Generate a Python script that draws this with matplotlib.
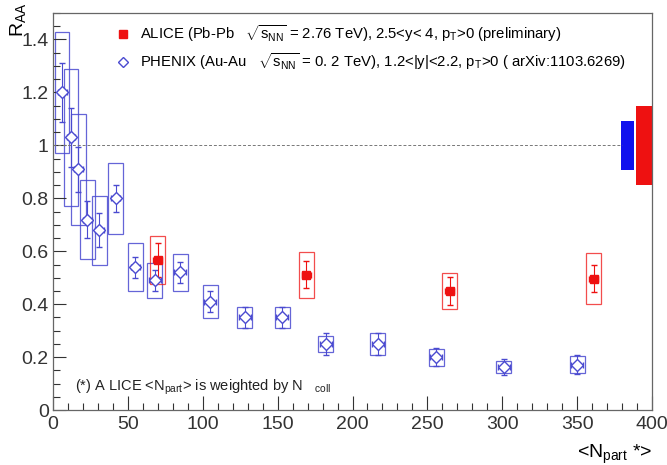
import matplotlib
matplotlib.use('Agg')
import matplotlib.pyplot as plt
from matplotlib.patches import Rectangle
from matplotlib.lines import Line2D
from matplotlib.ticker import MultipleLocator

plt.rcParams['font.family'] = ['Liberation Sans', 'DejaVu Sans']
plt.rcParams['mathtext.fontset'] = 'custom'
plt.rcParams['mathtext.rm'] = 'Liberation Sans'
plt.rcParams['mathtext.it'] = 'Liberation Sans'

# PHENIX Au-Au, 1.2<|y|<2.2
phenix_npart = [6, 12, 17, 23, 31, 42, 55, 68, 85, 105, 128, 153, 182, 217, 256, 301, 350]
phenix_raa = [1.20, 1.03, 0.91, 0.72, 0.68, 0.80, 0.54, 0.49, 0.52, 0.41, 0.35, 0.35, 0.25, 0.25, 0.20, 0.163, 0.172]
phenix_stat = [0.11, 0.11, 0.085, 0.07, 0.065, 0.05, 0.04, 0.04, 0.04, 0.04, 0.04, 0.04, 0.04, 0.04, 0.035, 0.03, 0.035]
phenix_sys = [0.23, 0.26, 0.21, 0.15, 0.13, 0.135, 0.09, 0.067, 0.07, 0.063, 0.04, 0.04, 0.03, 0.043, 0.032, 0.022, 0.033]
phenix_xerr = [3, 3, 3, 3, 3, 3, 3, 4, 4, 4, 4, 4, 4, 4, 4, 4, 4]

# ALICE Pb-Pb, 2.5<y<4
alice_npart = [70, 169, 265, 361]
alice_raa = [0.566, 0.512, 0.45, 0.497]
alice_stat = [0.065, 0.05, 0.053, 0.05]
alice_sys = [0.09, 0.087, 0.068, 0.095]
alice_xerr = [3, 3, 3, 3]

# global uncertainties around unity
phenix_global = 0.092
alice_global = 0.15

blue = '#4a4ad0'
red = '#ee1111'

fig = plt.figure(figsize=(6.67, 4.65), dpi=100)
ax = fig.add_axes([0.0795, 0.118, 0.898, 0.854])

# systematic boxes
for x, y, s in zip(phenix_npart, phenix_raa, phenix_sys):
    ax.add_patch(Rectangle((x - 5, y - s), 10, 2 * s, fill=False, ec=blue, lw=0.9, alpha=0.85))
for x, y, s in zip(alice_npart, alice_raa, alice_sys):
    ax.add_patch(Rectangle((x - 5, y - s), 10, 2 * s, fill=False, ec=red, lw=0.9, alpha=0.75))

ax.errorbar(phenix_npart, phenix_raa, yerr=phenix_stat, xerr=phenix_xerr, fmt='D', ms=6,
            mfc='white', mec=blue, mew=1.0, ecolor=blue, elinewidth=0.8, capsize=2)
ax.errorbar(alice_npart, alice_raa, yerr=alice_stat, xerr=alice_xerr, fmt='s', ms=6,
            mfc=red, mec=red, ecolor=red, elinewidth=0.8, capsize=2)

# unity line and global uncertainty boxes
ax.plot([0, 380], [1, 1], ls=(0, (3, 2)), color='#777777', lw=0.7)
ax.add_patch(Rectangle((379, 1 - phenix_global), 9, 2 * phenix_global, color='#1111ee', lw=0))
ax.add_patch(Rectangle((389, 1 - alice_global), 11, 2 * alice_global, color=red, lw=0))

ax.set_xlim(0, 400)
ax.set_ylim(0, 1.5)
ax.set_yticks([0, 0.2, 0.4, 0.6, 0.8, 1.0, 1.2, 1.4])
ax.set_yticklabels(['0', '0.2', '0.4', '0.6', '0.8', '1', '1.2', '1.4'])
ax.xaxis.set_minor_locator(MultipleLocator(10))
ax.yaxis.set_minor_locator(MultipleLocator(0.05))
ax.tick_params(which='both', direction='in', labelsize=14, colors='#333333', width=0.8)
ax.tick_params(axis='x', which='major', length=10, pad=4)
ax.tick_params(axis='x', which='minor', length=5)
ax.tick_params(axis='y', which='major', length=9, pad=3)
ax.tick_params(axis='y', which='minor', length=5)
for sp in ax.spines.values():
    sp.set_color('#666666')
    sp.set_linewidth(0.9)

fig.text(0.027, 0.995, r'R$_{\rm AA}$', rotation=90, fontsize=14, ha='center', va='top')
ax.set_xlabel(r'<N$_{\rm part}$ *>', loc='right', fontsize=14, labelpad=7)

handles = [Line2D([], [], ls='none', marker='s', ms=6, mfc=red, mec=red),
           Line2D([], [], ls='none', marker='D', ms=5, mfc='white', mec=blue)]
labels = [r'ALICE (Pb-Pb   $\sqrt{\rm s_{NN}}$ = 2.76 TeV), 2.5<y< 4, p$_{\rm T}$>0 (preliminary)',
          r'PHENIX (Au-Au   $\sqrt{\rm s_{NN}}$ = 0. 2 TeV), 1.2<|y|<2.2, p$_{\rm T}$>0 ( arXiv:1103.6269)']
ax.legend(handles, labels, loc='upper left', bbox_to_anchor=(0.085, 1.008), frameon=False,
          fontsize=10.7, handlelength=0.8, handletextpad=0.7, labelspacing=0.55)

ax.text(14.5, 0.087, r'(*) A LICE <N$_{\rm part}$> is weighted by N   $_{\rm coll}$',
        fontsize=10.5, color='#222222', va='center')

fig.savefig('out.png', dpi=100)
